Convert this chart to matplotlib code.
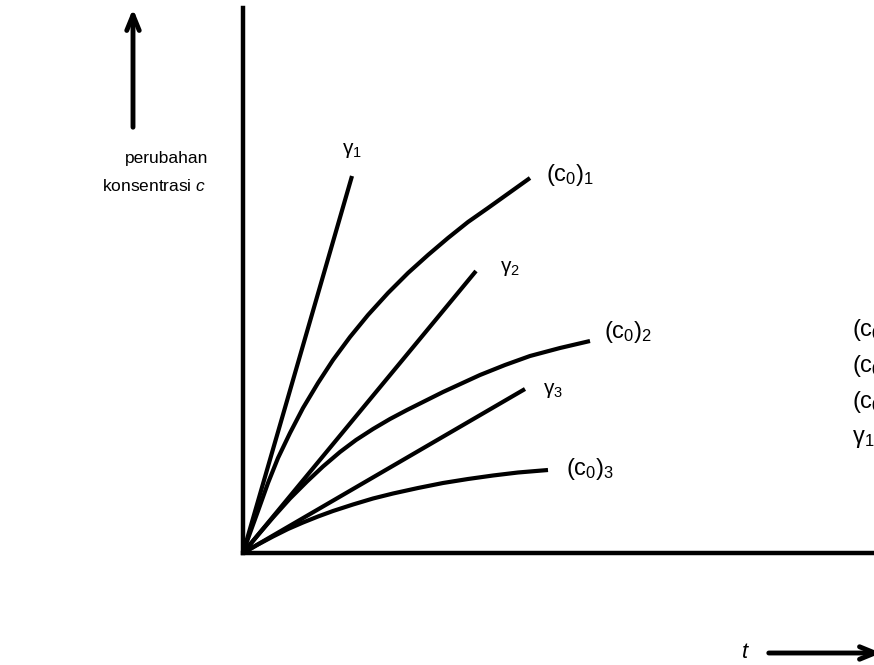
import matplotlib.pyplot as plt

plt.rcParams['font.family'] = ['Liberation Sans', 'DejaVu Sans']
plt.rcParams['mathtext.fontset'] = 'custom'
plt.rcParams['mathtext.rm'] = 'Liberation Sans'
plt.rcParams['mathtext.it'] = 'Liberation Sans:italic'

# straight lines (gamma), from the origin to their end point
gamma_t = [10.9, 23.3, 28.2]
gamma_c = [37.7, 28.2, 16.4]
gamma_labels = [r'$\mathregular{γ_1}$', r'$\mathregular{γ_2}$', r'$\mathregular{γ_3}$']

# curved lines (c0)1..3
c01_t = [0, 0.7, 1.5, 2.5, 3.5, 4.7, 6.0, 7.5, 9.0, 10.7, 12.5, 14.5, 16.5, 18.5, 20.5, 22.5, 24.5, 26.6, 28.7]
c01_c = [0, 2.0, 4.2, 7.0, 9.5, 12.0, 14.5, 17.0, 19.3, 21.6, 23.8, 26.0, 28.0, 29.8, 31.5, 33.1, 34.5, 36.0, 37.5]
c02_t = [0, 1.5, 3.0, 4.7, 6.4, 8.0, 9.7, 11.3, 13.0, 14.7, 16.4, 20.0, 23.7, 26.2, 28.7, 31.7, 34.7]
c02_c = [0, 1.8, 3.55, 5.45, 7.15, 8.65, 10.1, 11.3, 12.4, 13.4, 14.3, 16.1, 17.8, 18.8, 19.7, 20.5, 21.2]
c03_t = [0, 1.5, 3.0, 4.5, 6.0, 7.5, 9.0, 11.0, 13.0, 15.0, 17.5, 20.0, 22.5, 25.0, 27.5, 30.5]
c03_c = [0, 0.85, 1.65, 2.4, 3.05, 3.65, 4.2, 4.85, 5.45, 5.95, 6.5, 7.0, 7.4, 7.75, 8.05, 8.3]
c0_labels = [r'$\mathregular{(c_0)_1}$', r'$\mathregular{(c_0)_2}$', r'$\mathregular{(c_0)_3}$']

right_labels = [r'$\mathregular{(c_0)_1 > (c_0)_2}$', r'$\mathregular{(c_0)_2 > (c_0)_3}$',
                r'$\mathregular{(c_0)_1 > (c_0)_3}$', r'$\mathregular{γ_1 > γ_2 > γ_3}$']

fig = plt.figure(figsize=(8.74, 6.65), dpi=100)
ax = fig.add_axes([243 / 874, 112 / 665, 631 / 874, 545 / 665])
ax.set_xlim(0, 63.1)
ax.set_ylim(0, 54.5)
ax.set_xticks([])
ax.set_yticks([])
for s in ['top', 'right']:
    ax.spines[s].set_visible(False)
for s in ['left', 'bottom']:
    ax.spines[s].set_linewidth(3.2)
    ax.spines[s].set_capstyle('projecting')

lw = 3.0
fs = 15
gamma_off = [(0, 1.6), (2.4, 0.3), (1.8, -0.1)]
for t, c, lab, off in zip(gamma_t, gamma_c, gamma_labels, gamma_off):
    ax.plot([0, t], [0, c], color='black', lw=lw, solid_capstyle='butt', clip_on=False)
    if off[0] == 0:
        ax.text(t + off[0], c + off[1], lab, fontsize=fs, ha='center', va='bottom')
    else:
        ax.text(t + off[0], c + off[1], lab, fontsize=fs, ha='left', va='center')

c0_off = [(1.6, 0.3), (1.4, 0.9), (1.8, 0.1)]
for ts, cs, lab, off in zip([c01_t, c02_t, c03_t], [c01_c, c02_c, c03_c], c0_labels, c0_off):
    ax.plot(ts, cs, color='black', lw=lw, solid_capstyle='butt', solid_joinstyle='round', clip_on=False)
    ax.text(ts[-1] + off[0], cs[-1] + off[1], lab, fontsize=17, ha='left', va='center')

# comparison labels at the right edge (cut off in the original)
for i, lab in enumerate(right_labels):
    fig.text(852 / 874, (665 - 330 - 36 * i) / 665, lab, fontsize=17, ha='left', va='center')

# y label and arrow
fig.text(208 / 874, (665 - 158) / 665, 'perubahan', fontsize=12.5, ha='right', va='center')
fig.text(206 / 874, (665 - 186) / 665, r'konsentrasi $c$', fontsize=12.5, ha='right', va='center')
ax.annotate('', xy=(133 / 874, (665 - 6) / 665), xytext=(133 / 874, (665 - 130) / 665),
            xycoords='figure fraction', textcoords='figure fraction',
            arrowprops=dict(arrowstyle='->, head_width=0.45, head_length=1.1', lw=3.5, color='black'))

# t label and arrow
fig.text(745 / 874, (665 - 652) / 665, r'$t$', fontsize=16, ha='center', va='center')
ax.annotate('', xy=(884 / 874, (665 - 653) / 665), xytext=(766 / 874, (665 - 653) / 665),
            xycoords='figure fraction', textcoords='figure fraction',
            arrowprops=dict(arrowstyle='->, head_width=0.45, head_length=1.1', lw=3.5, color='black'))

fig.savefig('out.png', dpi=100)
